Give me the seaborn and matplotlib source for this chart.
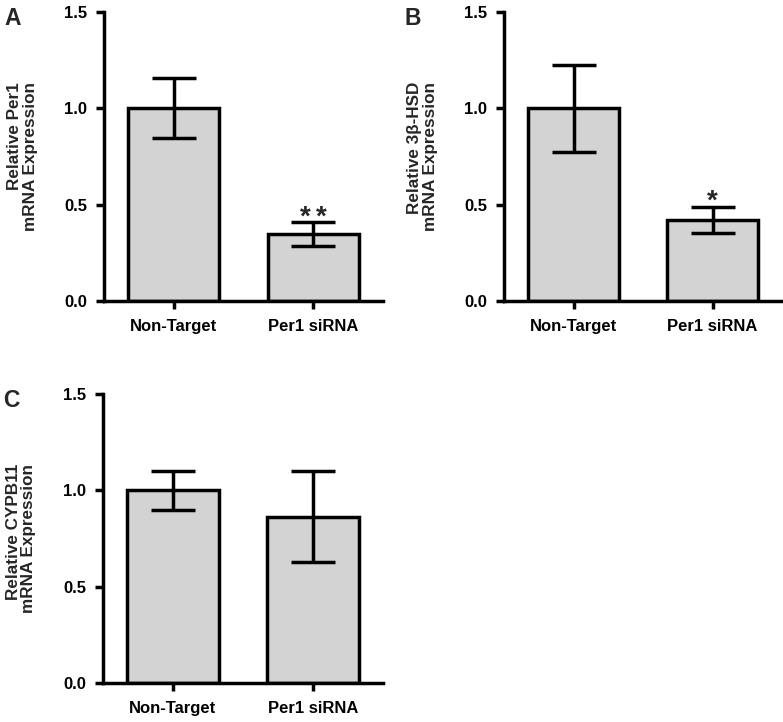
import numpy as np
import pandas as pd
import matplotlib
matplotlib.use("Agg")
import matplotlib.pyplot as plt
import seaborn as sns

# -----------------------------------------
# DATA
# -----------------------------------------
groups = ["Non-Target", "Per1 siRNA"]

per1_mean = [1.0, 0.347]
per1_sem = [0.155, 0.061]

hsd_mean = [1.0, 0.42]
hsd_sem = [0.226, 0.068]

cyp_mean = [1.0, 0.863]
cyp_sem = [0.10, 0.237]

panel_letters = ["A", "B", "C"]
ylabels = [
    "Relative Per1\nmRNA Expression",
    "Relative 3\u03b2-HSD\nmRNA Expression",
    "Relative CYPB11\nmRNA Expression",
]
stars = ["**", "*", ""]

# -----------------------------------------
# STYLE
# -----------------------------------------
sns.set_style("ticks")
plt.rcParams["font.family"] = ["Liberation Sans", "DejaVu Sans"]
plt.rcParams["font.weight"] = "bold"

W, H = 783, 722
fig = plt.figure(figsize=(W / 100, H / 100), dpi=100)


def px_axes(left, top, right, bottom):
    return fig.add_axes([left / W, 1 - bottom / H, (right - left) / W, (bottom - top) / H])


axes = [
    px_axes(104, 12, 383, 301),
    px_axes(504, 12, 782, 301),
    px_axes(103, 394, 383, 683),
]

all_means = [per1_mean, hsd_mean, cyp_mean]
all_sems = [per1_sem, hsd_sem, cyp_sem]

lw = 2.5
for ax, means, sems, letter, ylab, star in zip(axes, all_means, all_sems,
                                               panel_letters, ylabels, stars):
    df = pd.DataFrame({"group": groups, "value": means})
    sns.barplot(data=df, x="group", y="value", ax=ax, color="#d3d3d3",
                saturation=1, edgecolor="black", linewidth=lw, width=0.655,
                errorbar=None)
    ax.errorbar(range(len(groups)), means, yerr=sems, fmt="none",
                ecolor="black", elinewidth=lw, capsize=15.8, capthick=lw,
                zorder=3)

    ax.set_xlim(-0.5, 1.5)
    ax.set_ylim(0, 1.5)
    ax.set_yticks([0, 0.5, 1.0, 1.5])
    ax.set_yticklabels(["0.0", "0.5", "1.0", "1.5"])
    ax.set_xlabel("")
    ax.set_ylabel(ylab, fontsize=12.3, fontweight="bold",
                  multialignment="right", linespacing=1.05)
    ax.yaxis.set_label_coords(-0.238, 0.5)

    for side in ["top", "right"]:
        ax.spines[side].set_visible(False)
    for side in ["left", "bottom"]:
        ax.spines[side].set_linewidth(lw)
        ax.spines[side].set_color("black")
    ax.tick_params(axis="both", width=lw, length=6, color="black",
                   labelsize=12, labelcolor="black")
    ax.tick_params(axis="y", pad=6)
    ax.tick_params(axis="x", pad=7)
    for t in ax.get_xticklabels() + ax.get_yticklabels():
        t.set_fontweight("bold")

    # significance stars above the siRNA bar
    if star:
        top = means[1] + sems[1]
        n = len(star)
        offs = np.linspace(-0.054 * (n - 1), 0.054 * (n - 1), n)
        for dx in offs:
            ax.text(1 + dx, top - 0.01, "*", ha="center", va="baseline",
                    fontsize=20, fontweight="bold")

    # panel letter
    bb = ax.get_position()
    fig.text(bb.x0 - 100 / W, bb.y1 + 5 / H, letter, fontsize=16.5,
             fontweight="bold", ha="left", va="top")

fig.savefig("out.png", dpi=100)
